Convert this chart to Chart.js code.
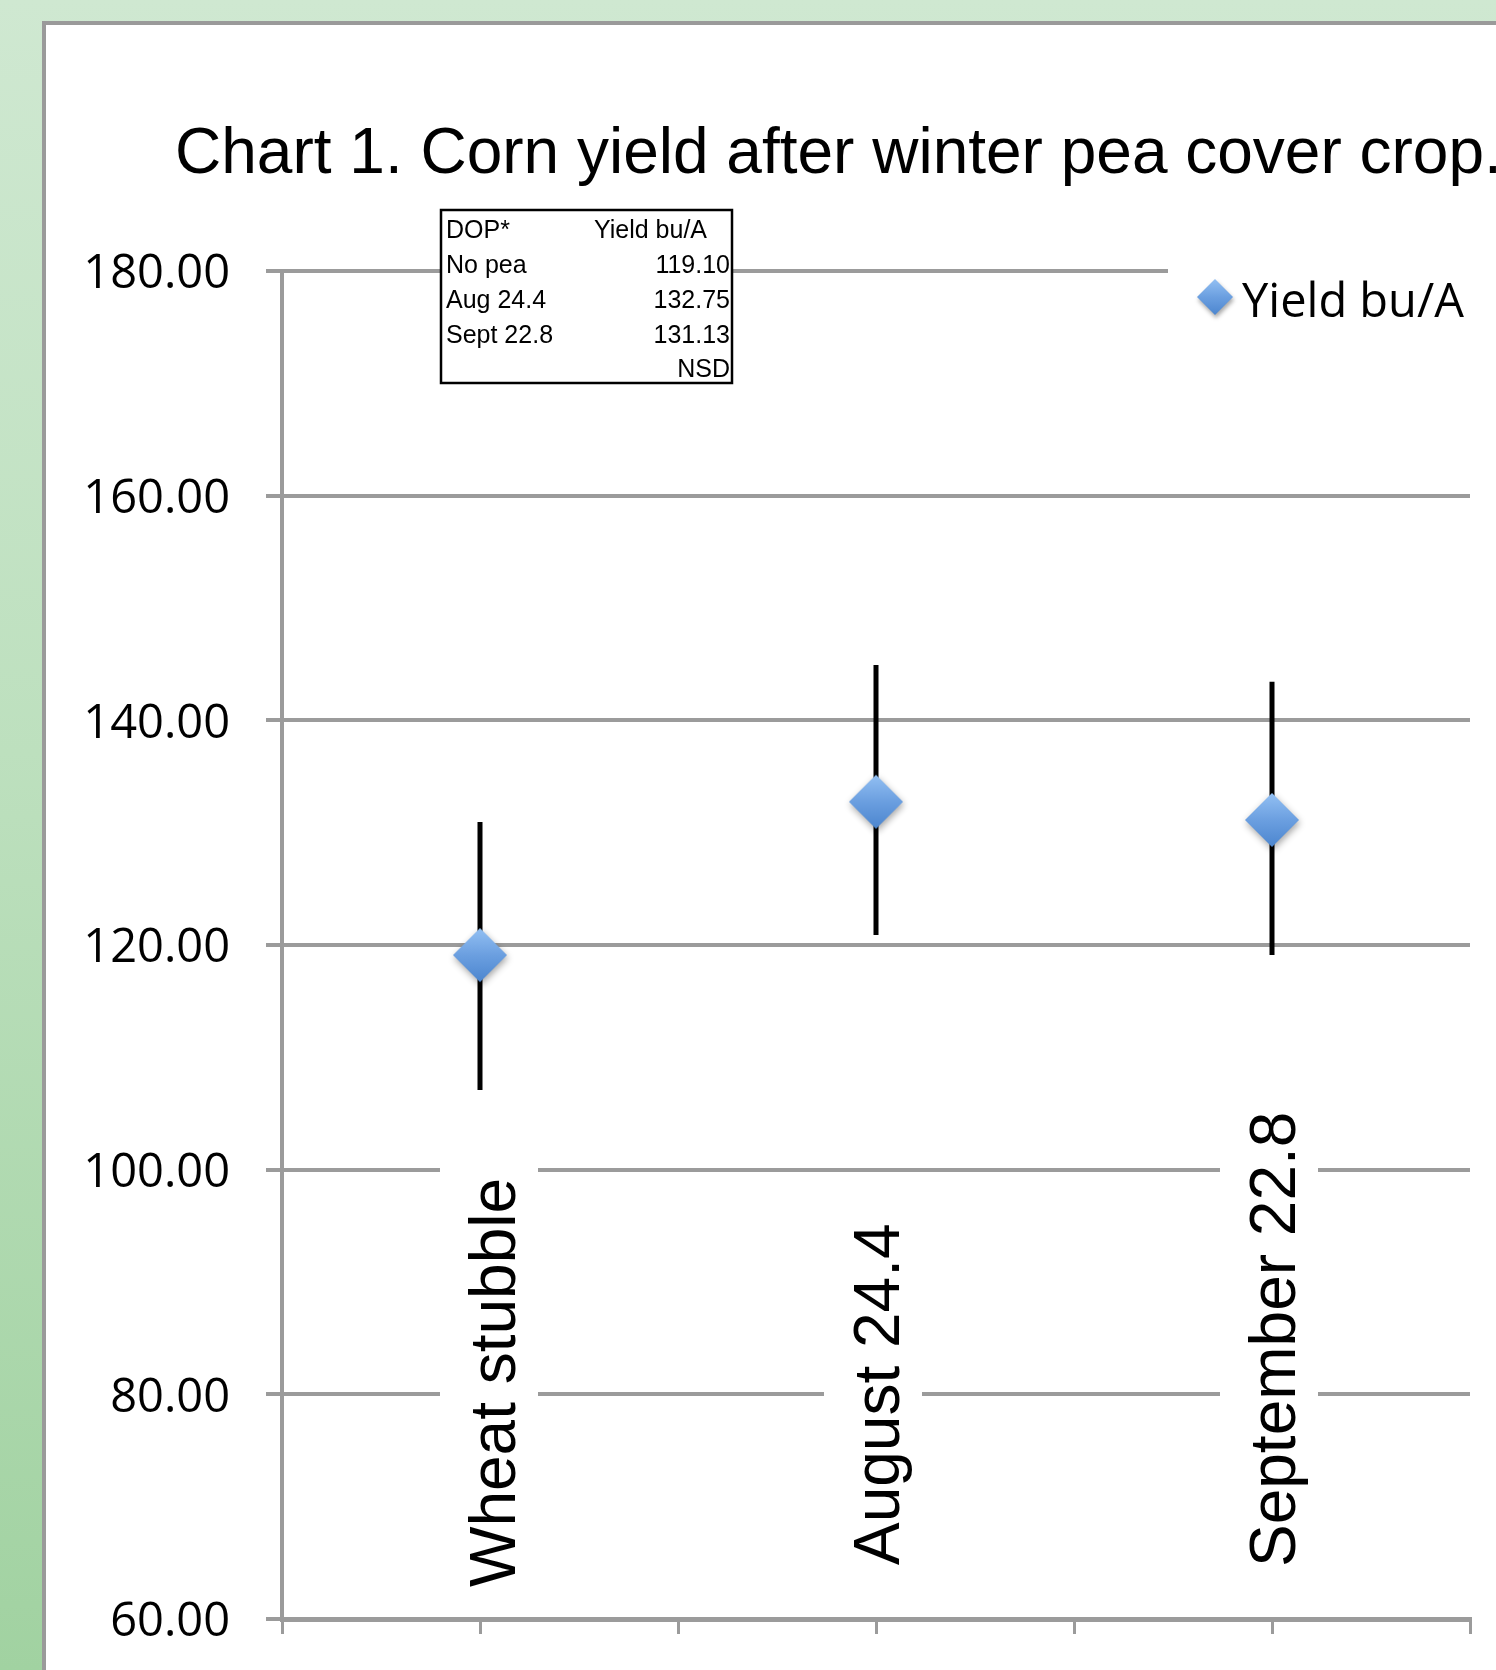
<!DOCTYPE html>
<html>
<head>
<meta charset="utf-8">
<script src="https://cdn.jsdelivr.net/npm/chart.js@4.4.0/dist/chart.umd.min.js"></script>
<style>
  html, body { margin: 0; padding: 0; }
  body {
    width: 1496px; height: 1670px; overflow: hidden; position: relative;
    background: linear-gradient(to bottom, #cfe8d1 0%, #bde0be 45%, #a1d2a1 100%);
  }
  #frame {
    position: absolute; left: 42px; top: 21px; width: 1500px; height: 1700px;
    background: #fff; border: 4px solid #9a9a9a; box-sizing: border-box;
  }
  #chart { position: absolute; left: 0; top: 0; }
</style>
</head>
<body>
<div id="frame"></div>
<canvas id="chart" width="1496" height="1670"></canvas>
<script>
// data
const categories = ['Wheat stubble', 'August 24.4', 'September 22.8'];
const yields = [119.10, 132.75, 131.13];
const yieldHigh = [130.95, 144.93, 143.44];
const yieldLow = [107.10, 120.89, 119.11];
const seriesName = 'Yield bu/A';
const chartTitle = 'Chart 1. Corn yield after winter pea cover crop.';
const tableHeader = ['DOP*', 'Yield bu/A'];
const tableRows = [['No pea', '119.10'], ['Aug 24.4', '132.75'], ['Sept 22.8', '131.13'], ['', 'NSD']];

const GRID = '#9b9b9b';

// categories sit on every other slot of a 0..6 axis, so the ticks fall on and between them
const slotOf = i => 2 * i + 1;

function diamondPath(g, cx, cy, half) {
    g.beginPath();
    g.moveTo(cx, cy - half);
    g.lineTo(cx + half, cy);
    g.lineTo(cx, cy + half);
    g.lineTo(cx - half, cy);
    g.closePath();
}

function fillDiamond(g, cx, cy, half, blur) {
    g.save();
    g.shadowColor = 'rgba(0,0,0,0.35)';
    g.shadowBlur = blur;
    g.shadowOffsetX = 1;
    g.shadowOffsetY = 3;
    const grad = g.createLinearGradient(0, cy - half, 0, cy + half);
    grad.addColorStop(0, '#93c0f3');
    grad.addColorStop(0.5, '#6b9fe0');
    grad.addColorStop(1, '#4c86cf');
    g.fillStyle = grad;
    diamondPath(g, cx, cy, half);
    g.fill();
    g.restore();
}

function makeMarker(half, blur) {
    const c = document.createElement('canvas');
    c.width = c.height = (half + blur + 6) * 2;
    fillDiamond(c.getContext('2d'), c.width / 2, c.height / 2, half, blur);
    return c;
}

const extras = {
    id: 'extras',
    beforeDatasetsDraw(chart) {
        const { ctx, chartArea, scales: { x, y } } = chart;

        // error bars
        ctx.save();
        ctx.strokeStyle = '#000';
        ctx.lineWidth = 5;
        yields.forEach((v, i) => {
            const px = Math.round(x.getPixelForValue(slotOf(i)));
            ctx.beginPath();
            ctx.moveTo(px, y.getPixelForValue(yieldHigh[i]));
            ctx.lineTo(px, y.getPixelForValue(yieldLow[i]));
            ctx.stroke();
        });
        ctx.restore();

        // rotated category labels, sitting inside the plot on a white box
        const nudgeX = [12, 0, 0];
        const gapBottom = [32, 54, 52];
        ctx.save();
        ctx.font = '64px "Liberation Sans", Arial, sans-serif';
        categories.forEach((c, i) => {
            const cx = x.getPixelForValue(slotOf(i)) + nudgeX[i];
            const start = chartArea.bottom - gapBottom[i];
            const w = ctx.measureText(c).width;
            ctx.fillStyle = '#fff';
            ctx.fillRect(cx - 52, start - w - 14, 98, w + 24);
            ctx.save();
            ctx.translate(cx, start);
            ctx.rotate(-Math.PI / 2);
            ctx.fillStyle = '#000';
            ctx.textAlign = 'left';
            ctx.textBaseline = 'alphabetic';
            ctx.fillText(c, 0, 23);
            ctx.restore();
        });
        ctx.restore();

        // white area behind the legend cuts the top gridline
        ctx.save();
        ctx.fillStyle = '#fff';
        ctx.fillRect(1168, chartArea.top - 10, 330, 70);
        ctx.restore();
    },
    afterDraw(chart) {
        const { ctx } = chart;
        ctx.save();

        // title
        ctx.fillStyle = '#000';
        ctx.font = '64px "Liberation Sans", Arial, sans-serif';
        ctx.textBaseline = 'alphabetic';
        ctx.textAlign = 'left';
        ctx.fillText(chartTitle, 175, 173);

        // legend
        fillDiamond(ctx, 1215, 297, 18, 4);
        ctx.fillStyle = '#000';
        ctx.font = '47px "Open Sans", sans-serif';
        ctx.fillText(seriesName, 1242, 317);

        // small value table
        ctx.fillStyle = '#fff';
        ctx.fillRect(441, 210, 291, 173);
        ctx.strokeStyle = '#000';
        ctx.lineWidth = 2.5;
        ctx.strokeRect(441, 210, 291, 173);
        ctx.fillStyle = '#000';
        ctx.font = '25px "Liberation Sans", Arial, sans-serif';
        ctx.fillText(tableHeader[0], 446, 238);
        ctx.fillText(tableHeader[1], 594, 238);
        tableRows.forEach((r, i) => {
            const by = 273 + i * 34.8;
            ctx.textAlign = 'left';
            ctx.fillText(r[0], 446, by);
            ctx.textAlign = 'right';
            ctx.fillText(r[1], 730, by);
        });
        ctx.restore();
    }
};

const ctx = document.getElementById('chart').getContext('2d');
new Chart(ctx, {
    type: 'scatter',
    data: {
        datasets: [{
            label: seriesName,
            data: yields.map((v, i) => ({ x: slotOf(i), y: v })),
            pointStyle: makeMarker(27, 7),
            showLine: false
        }]
    },
    options: {
        responsive: false,
        animation: false,
        events: [],
        layout: { padding: { left: 0, top: 271, right: 26, bottom: 0 } },
        plugins: {
            legend: { display: false },
            tooltip: { enabled: false },
            title: { display: false }
        },
        scales: {
            x: {
                type: 'linear',
                min: 0,
                max: 6,
                ticks: { stepSize: 1, display: false },
                grid: { drawOnChartArea: false, drawTicks: true, tickLength: 15, color: GRID, lineWidth: 3 },
                border: { color: GRID, width: 5 },
                afterFit: s => { s.height = 51; }
            },
            y: {
                min: 60,
                max: 180,
                ticks: {
                    stepSize: 20,
                    padding: 36,
                    labelOffset: 4,
                    color: '#000',
                    font: { family: '"Open Sans", sans-serif', size: 47 },
                    callback: v => v.toFixed(2)
                },
                grid: { color: GRID, lineWidth: 4, tickLength: 16 },
                border: { color: GRID, width: 4 },
                afterFit: s => {
                    s.width = 282;
                    // tick padding is meant sideways only, don't let it pad the plot vertically
                    s.paddingTop = 0;
                    s.paddingBottom = 0;
                }
            }
        }
    },
    plugins: [extras]
});
</script>
</body>
</html>
